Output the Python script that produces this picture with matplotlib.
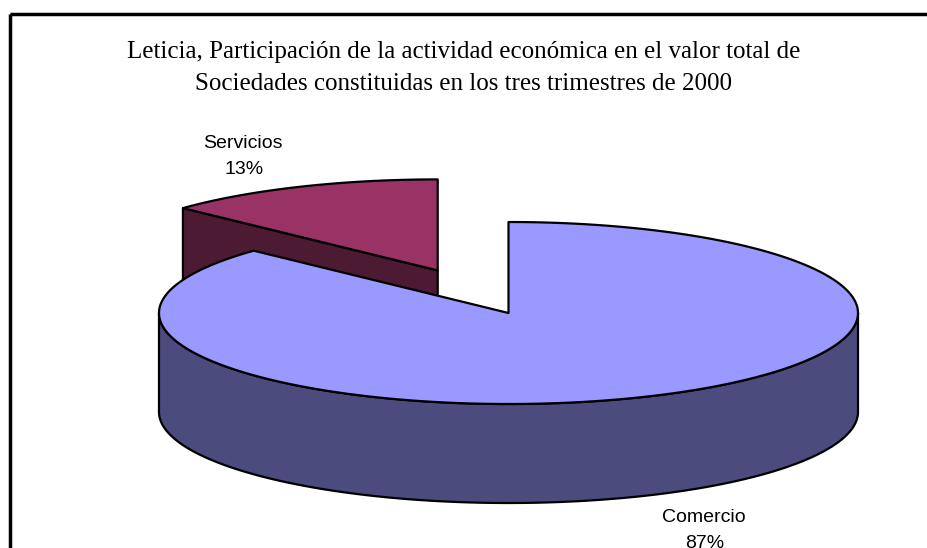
import matplotlib.pyplot as plt
import numpy as np
from matplotlib.patches import Polygon, Rectangle

# data
categories = ["Comercio", "Servicios"]
shares = [87, 13]
explode = [0.0, 0.51]
top_colors = ["#9999FF", "#993366"]
side_colors = ["#4B4B7E", "#4C1A33"]
label_pos = [(704, 517), (243, 144)]

title = ("Leticia, Participación de la actividad económica en el valor total de\n"
         "Sociedades constituidas en los tres trimestres de 2000")

# 3d pie geometry in pixels
cx, cy = 508.5, 313.0
rx, ry = 349.5, 91.0
depth = 99.0


def ell(x0, y0, th):
    t = np.radians(th)
    return x0 + rx * np.cos(t), y0 - ry * np.sin(t)


def draw_slice(ax, th1, th2, expl, top_c, side_c):
    mid = np.radians((th1 + th2) / 2)
    x0 = cx + expl * rx * np.cos(mid)
    y0 = cy - expl * ry * np.sin(mid)
    kw = dict(edgecolor="black", linewidth=1.6, joinstyle="round")

    # radial faces that look toward the viewer
    for th, sign in ((th1, -1), (th2, 1)):
        normal = th + sign * 90
        if np.sin(np.radians(normal)) < -1e-6:
            ex, ey = ell(x0, y0, th)
            pts = [(x0, y0), (ex, ey), (ex, ey + depth), (x0, y0 + depth)]
            ax.add_patch(Polygon(pts, closed=True, facecolor=side_c, **kw))

    # outer wall, front half only
    for k in range(-1, 3):
        a = max(th1, 180 + 360 * k)
        b = min(th2, 360 + 360 * k)
        if b > a:
            ts = np.linspace(a, b, 200)
            xs, ys = ell(x0, y0, ts)
            pts = list(zip(xs, ys)) + list(zip(xs[::-1], ys[::-1] + depth))
            ax.add_patch(Polygon(pts, closed=True, facecolor=side_c, **kw))

    # top face
    ts = np.linspace(th1, th2, 400)
    xs, ys = ell(x0, y0, ts)
    pts = [(x0, y0)] + list(zip(xs, ys))
    ax.add_patch(Polygon(pts, closed=True, facecolor=top_c, **kw))


fig = plt.figure(figsize=(9.28, 5.48), dpi=100)
ax = fig.add_axes([0, 0, 1, 1])
ax.set_xlim(0, 928)
ax.set_ylim(548, 0)
ax.axis("off")

# clockwise from 12 o'clock, as the spreadsheet draws it
total = float(sum(shares))
spans = []
start = 90.0
for v in shares:
    span = 360.0 * v / total
    spans.append((start - span, start))
    start -= span

# back slices first
order = sorted(range(len(shares)), key=lambda i: -np.sin(np.radians(sum(spans[i]) / 2)) * explode[i])
for i in order:
    th1, th2 = spans[i]
    draw_slice(ax, th1, th2, explode[i], top_colors[i], side_colors[i])

for i, (lx, ly) in enumerate(label_pos):
    pct = f"{shares[i] / total * 100:.0f}%"
    ax.text(lx, ly, categories[i], ha="center", va="center",
            fontsize=14, family="Liberation Sans")
    ax.text(lx + 1, ly + 26, pct, ha="center", va="center",
            fontsize=14, family="Liberation Sans")

ax.text(464, 68, title, ha="center", va="center", fontsize=18,
        family="Liberation Serif", linespacing=1.62)

ax.add_patch(Rectangle((10, 13.5), 930, 560, fill=False, edgecolor="black",
                       linewidth=2.5))

fig.savefig("out.png", dpi=100)
